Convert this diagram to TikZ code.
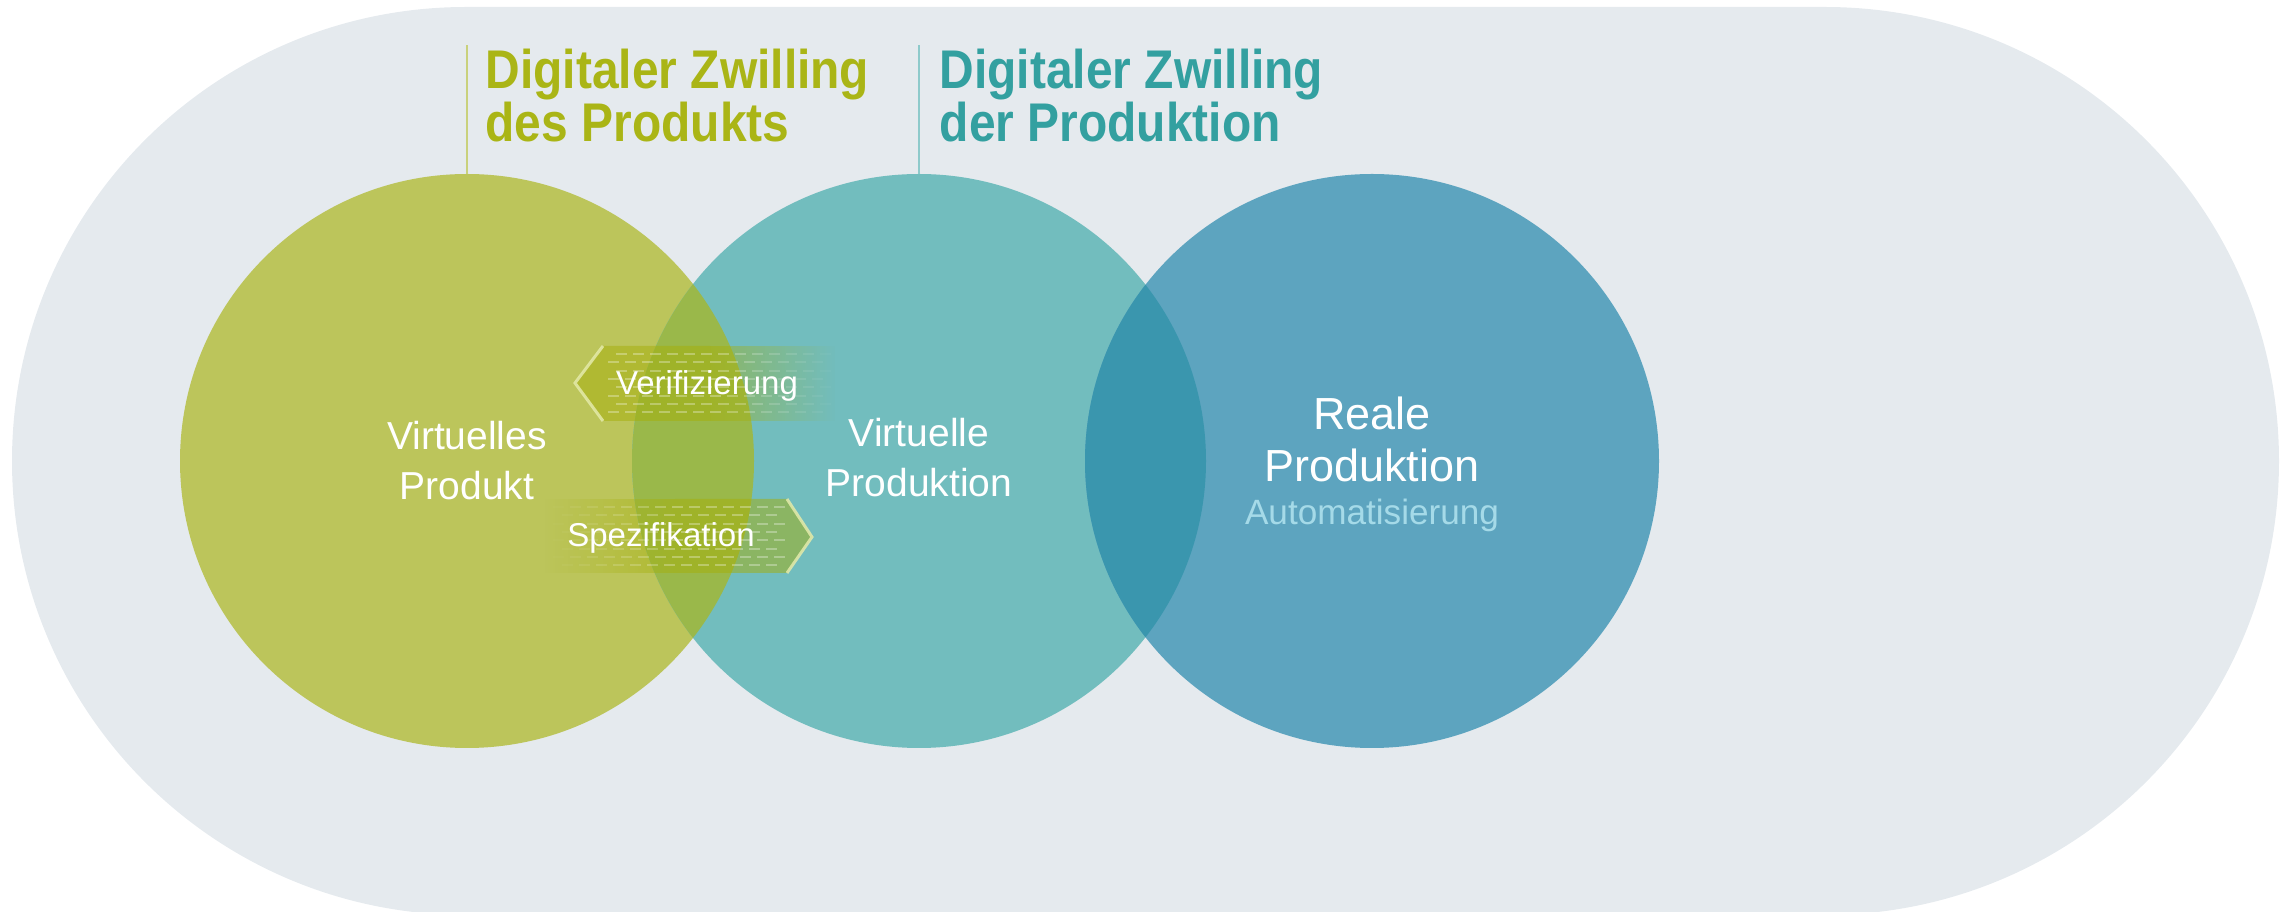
\documentclass[tikz,border=0pt]{standalone}
\usepackage{fontspec}
\setmainfont{Liberation Sans}
\newfontfamily\titlefont{Liberation Sans}[FakeStretch=0.88]
\usepackage{tikz}
\usetikzlibrary{positioning}
\usepackage{xcolor}
\definecolor{pillgray}{RGB}{229,234,238}
\definecolor{color1}{RGB}{188,197,91}
\definecolor{color2}{RGB}{114,189,190}
\definecolor{color3}{RGB}{93,164,191}
\definecolor{cut12}{RGB}{154,184,74}
\definecolor{cut23}{RGB}{58,150,174}
\definecolor{titlegreen}{RGB}{170,181,22}
\definecolor{titleteal}{RGB}{51,160,160}
\definecolor{autoblue}{RGB}{165,218,232}
\definecolor{bandgreen}{RGB}{165,175,10}
\definecolor{chevron}{RGB}{228,234,170}

\tikzset{
  twintitle/.style={anchor=north west, inner sep=0pt, align=left,
    font=\titlefont\bfseries\fontsize{15.5}{15.1}\selectfont},
  circlelabel/.style={inner sep=0pt, align=center, text=white,
    font=\fontsize{11.1}{14.2}\selectfont},
  arrowlabel/.style={anchor=base, inner sep=0pt, text=white,
    font=\fontsize{9.4}{11}\selectfont},
  dashrow/.style={fill=white},
  chevronline/.style={draw=chevron, draw opacity=0.85, line width=0.85pt}
}

\begin{document}
\begin{tikzpicture}
\useasboundingbox (0,0) rectangle (22.88,9.12);
\def\firstcircle{(4.67,4.51) circle (2.87cm)}
\def\secondcircle{(9.19,4.51) circle (2.87cm)}
\def\thirdcircle{(13.72,4.51) circle (2.87cm)}

\fill[pillgray, rounded corners=4.54cm] (0.12,-0.03) rectangle (22.79,9.05);

\fill[color1] \firstcircle;
\fill[color2] \secondcircle;
\fill[color3] \thirdcircle;

\begin{scope}
\clip \firstcircle;
\fill[cut12] \secondcircle;
\end{scope}
\begin{scope}
\clip \secondcircle;
\fill[cut23] \thirdcircle;
\end{scope}

% title lines
\coordinate (top1) at (4.67,7.38);
\coordinate (top2) at (9.19,7.38);
\draw[color1!80!white, line width=0.6pt] (top1) -- ++(0,1.29);
\draw[color2!80!white, line width=0.6pt] (top2) -- ++(0,1.29);
\node[twintitle, text=titlegreen] (titel1) at (4.85,8.64) {Digitaler Zwilling\\des Produkts};
\node[twintitle, text=titleteal] (titel2) at (9.39,8.64) {Digitaler Zwilling\\der Produktion};

% Verifizierung band, fading out to the right
\fill[bandgreen, fill opacity=0.5]
  (5.75,5.29) -- (6.03,5.66) -- (7.10,5.66) -- (7.10,4.91) -- (6.03,4.91) -- cycle;
\foreach \x in {7.100,7.125,...,8.33} {
  \pgfmathsetmacro{\op}{0.5*(8.35-\x)/1.25}
  \fill[bandgreen, fill opacity=\op] (\x,4.91) rectangle ++(0.025,0.75);
}
\foreach \y [count=\i] in {5.57,5.49,5.40,5.32,5.24,5.15,5.07,4.99} {
  \pgfmathsetmacro{\dx}{mod(\i,2)*0.08}
  \foreach \x in {6.08,6.25,...,8.2} {
    \pgfmathsetmacro{\op}{0.3*min(1,(8.35-\x-\dx)/1.25)}
    \fill[dashrow, fill opacity=\op] (\x+\dx,\y) rectangle ++(0.11,0.015);
  }
}
\draw[chevronline] (6.03,5.66) -- (5.75,5.29) -- (6.03,4.91);

% Spezifikation band, fading out to the left
\fill[bandgreen, fill opacity=0.5]
  (8.12,3.75) -- (7.87,4.13) -- (6.75,4.13) -- (6.75,3.39) -- (7.87,3.39) -- cycle;
\foreach \x in {5.450,5.475,...,6.74} {
  \pgfmathsetmacro{\op}{0.5*(\x+0.025-5.45)/1.3}
  \fill[bandgreen, fill opacity=\op] (\x,3.39) rectangle ++(0.025,0.74);
}
\foreach \y [count=\i] in {4.04,3.96,3.87,3.79,3.71,3.62,3.54,3.46} {
  \pgfmathsetmacro{\dx}{mod(\i,2)*0.08}
  \foreach \x in {5.45,5.62,...,7.7} {
    \pgfmathsetmacro{\op}{0.3*min(1,max(0,(\x+\dx-5.45)/1.3))}
    \fill[dashrow, fill opacity=\op] (\x+\dx,\y) rectangle ++(0.11,0.015);
  }
}
\draw[chevronline] (7.87,4.13) -- (8.12,3.75) -- (7.87,3.39);

\node[arrowlabel] (verif) at (7.07,5.17) {Verifizierung};
\node[arrowlabel] (spez) at (6.61,3.65) {Spezifikation};

\node[circlelabel] (vprodukt) at (4.67,4.51) {Virtuelles\\Produkt};
\node[circlelabel] (vproduktion) at (9.19,4.54) {Virtuelle\\Produktion};
\node[inner sep=0pt, align=center, text=white, font=\fontsize{12.8}{14.8}\selectfont]
  (reale) at (13.72,4.725) {Reale\\Produktion};
\node[below=0.16cm of reale, inner sep=0pt, text=autoblue, font=\fontsize{10}{12}\selectfont]
  (auto) {Automatisierung};
\end{tikzpicture}
\end{document}
